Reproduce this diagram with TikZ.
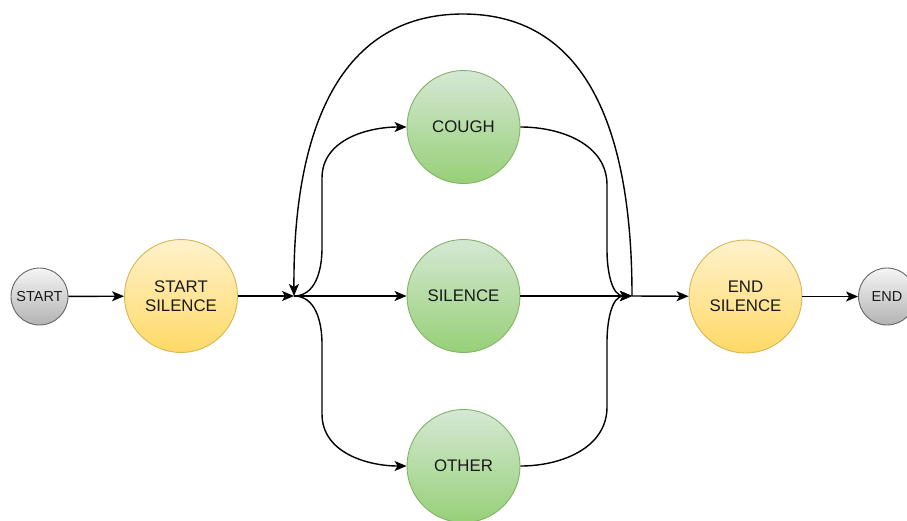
\documentclass[tikz,border=0pt]{standalone}
\usepackage{fontspec}
\setmainfont{Liberation Sans}
\usetikzlibrary{arrows.meta}
\definecolor{grayTop}{HTML}{F5F5F5}
\definecolor{grayBot}{HTML}{B3B3B3}
\definecolor{grayLine}{HTML}{666666}
\definecolor{yelTop}{HTML}{FFF2CC}
\definecolor{yelBot}{HTML}{FFD966}
\definecolor{yelLine}{HTML}{D6B656}
\definecolor{grnTop}{HTML}{D5E8D4}
\definecolor{grnBot}{HTML}{97D077}
\definecolor{grnLine}{HTML}{82B366}
\definecolor{txt}{HTML}{1A1A1A}
\begin{document}
\begin{tikzpicture}[x=1pt,y=-1pt,
  bigstate/.style={circle, minimum size=113pt, inner sep=0pt, line width=0.9pt, align=center, text=txt, font=\fontsize{16.8}{19}\selectfont},
  smallstate/.style={circle, minimum size=57pt, inner sep=0pt, line width=0.9pt, draw=grayLine, top color=grayTop, bottom color=grayBot, text=txt, font=\fontsize{14.5}{17}\selectfont},
  yelstate/.style={bigstate, draw=yelLine, top color=yelTop, bottom color=yelBot},
  grnstate/.style={bigstate, draw=grnLine, top color=grnTop, bottom color=grnBot},
  conn/.style={draw, line width=1.4pt, -{Stealth[length=12pt,width=10pt,inset=3pt]}}]
\clip (0,0) rectangle (907,520);
\fill[white] (0,0) rectangle (907,520);
\node[smallstate] (start) at (39.5,296.5) {START};
\node[yelstate] (ss) at (181,296) {START\\SILENCE};
\node[grnstate] (cough) at (463.5,127) {COUGH};
\node[grnstate] (sil) at (463.5,296) {SILENCE};
\node[grnstate] (other) at (463.5,466) {OTHER};
\node[yelstate] (es) at (745.5,296.5) {END\\SILENCE};
\node[smallstate] (end) at (887,296.5) {END};
\coordinate (jl) at (294,296);
\coordinate (jr) at (632,296);
\draw[conn] (start) -- (ss);
\draw[conn] (ss) -- (jl);
\draw[conn] (jl) -- (sil);
\draw[conn] (jl) to[out=0,in=-90] (322,248) -- (322,178) to[out=90,in=180] (cough);
\draw[conn] (jl) to[out=0,in=90] (322,344) -- (322,414) to[out=-90,in=180] (other);
\draw[conn] (cough) to[out=0,in=90] (607,185) -- (607,250) to[out=-90,in=180] (jr);
\draw[conn] (other) to[out=0,in=-90] (607,407) -- (607,342) to[out=90,in=180] (jr);
\draw[conn] (sil) -- (jr);
\draw[conn] (jr) .. controls (632,140) and (592,14) .. (463,14) .. controls (334,14) and (293,140) .. (jl);
\draw[conn] (jr) -- (es);
\draw[conn] (es) -- (end);
\end{tikzpicture}
\end{document}
